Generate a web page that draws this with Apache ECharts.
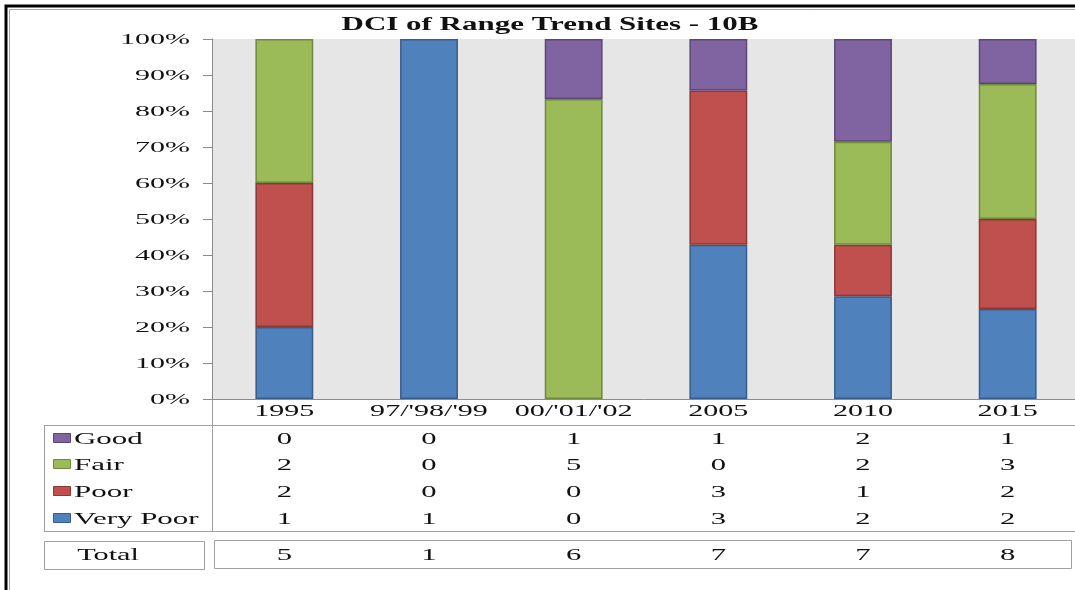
<!DOCTYPE html>
<html>
<head>
<meta charset="utf-8">
<script src="https://cdn.jsdelivr.net/npm/echarts@6/dist/echarts.min.js"></script>
<style>
html, body { margin: 0; padding: 0; background: #fff; }
#chart { width: 1075px; height: 590px; }
</style>
</head>
<body>
<div id="chart"></div>
<script>
// data (site counts per condition class)
const titleText = 'DCI of Range Trend Sites - 10B';
const categories = ['1995', "97/'98/'99", "00/'01/'02", '2005', '2010', '2015'];
const veryPoor = [1, 1, 0, 3, 2, 2];
const poor = [2, 0, 0, 3, 1, 2];
const fair = [2, 0, 5, 0, 2, 3];
const good = [0, 0, 1, 1, 2, 1];
const totals = [5, 1, 6, 7, 7, 8];
const yTicks = [0, 10, 20, 30, 40, 50, 60, 70, 80, 90, 100];

const colors = { 'Very Poor': '#4F81BD', 'Poor': '#C0504D', 'Fair': '#9BBB59', 'Good': '#8064A2' };
const edges = { 'Very Poor': '#385D8A', 'Poor': '#8C3836', 'Fair': '#71893F', 'Good': '#5C4776' };

const serif = '"Liberation Serif", "Times New Roman", serif';
const lineGray = '#a0a0a0';

// share of sites per year; empty classes get no bar at all
function pct(arr) {
    return arr.map((v, i) => (v === 0 ? null : v / totals[i] * 100));
}

function barSeries(name, arr) {
    return {
        name: name,
        type: 'bar',
        stack: 'all',
        barWidth: '40%',
        data: pct(arr),
        itemStyle: {
            color: colors[name],
            borderColor: edges[name],
            borderWidth: 1.5,
        },
    };
}

const chart = echarts.init(document.getElementById('chart'));
chart.setOption({
    animation: false,
    backgroundColor: '#fff',
    grid: {
        left: 212,
        top: 39,
        width: 868,
        height: 360,
        show: true,
        backgroundColor: '#E6E6E6',
        borderWidth: 0,
        outerBoundsMode: 'none',
    },
    xAxis: {
        type: 'category',
        data: categories,
        axisLine: { lineStyle: { color: '#8c8c8c' } },
        axisTick: { show: false },
        axisLabel: { show: false },
    },
    yAxis: {
        type: 'value',
        min: 0,
        max: 100,
        interval: 10,
        axisLine: { show: true, lineStyle: { color: '#8c8c8c' } },
        axisTick: { show: true, length: 9, lineStyle: { color: '#8c8c8c' } },
        axisLabel: { show: false },
        splitLine: { show: false },
    },
    series: [
        barSeries('Very Poor', veryPoor),
        barSeries('Poor', poor),
        barSeries('Fair', fair),
        barSeries('Good', good),
    ],
});

// text helper: the original text is drawn wide, so stretch it horizontally
function txt(text, x, y, size, align, sx, bold) {
    return {
        type: 'text',
        x: x,
        y: y,
        scaleX: sx,
        silent: true,
        style: {
            text: text,
            font: (bold ? 'bold ' : '') + size + 'px ' + serif,
            fill: '#111',
            align: align,
            verticalAlign: 'middle',
            textAlign: align,
            textVerticalAlign: 'middle',
        },
    };
}

function hline(x1, x2, y, color) {
    return { type: 'line', silent: true, shape: { x1: x1, y1: y, x2: x2, y2: y }, style: { stroke: color, lineWidth: 1 } };
}
function vline(x, y1, y2, color) {
    return { type: 'line', silent: true, shape: { x1: x, y1: y1, x2: x, y2: y2 }, style: { stroke: color, lineWidth: 1 } };
}

function buildGraphic() {
    const g = [];
    // outer frame
    g.push({ type: 'rect', silent: true, shape: { x: 6, y: 6, width: 1200, height: 1200 }, style: { fill: null, stroke: '#000', lineWidth: 3 } });
    g.push({ type: 'rect', silent: true, shape: { x: 9.5, y: 9.5, width: 1200, height: 1200 }, style: { fill: null, stroke: '#a6a6a6', lineWidth: 1 } });

    g.push(txt(titleText, 550, 25.5, 18, 'center', 1.72, true));

    yTicks.forEach(v => {
        const y = chart.convertToPixel({ yAxisIndex: 0 }, v);
        g.push(txt(v + '%', 190, y + 1.5, 15, 'right', 2.0));
    });

    const cx = categories.map(c => chart.convertToPixel({ xAxisIndex: 0 }, c));
    categories.forEach((c, i) => g.push(txt(c, cx[i], 412, 16, 'center', 1.88)));

    // data table
    g.push(hline(44, 1080, 425.5, lineGray));
    g.push(hline(44, 1080, 531.5, lineGray));
    g.push(vline(44.5, 425, 532, lineGray));
    g.push(vline(212.5, 399, 532, lineGray));

    const rows = [
        ['Good', good],
        ['Fair', fair],
        ['Poor', poor],
        ['Very Poor', veryPoor],
    ];
    const rowY = [438, 464, 491, 518];
    rows.forEach((r, k) => {
        const y = rowY[k];
        g.push({ type: 'rect', silent: true, shape: { x: 53.5, y: y - 4.5, width: 17, height: 9 }, style: { fill: colors[r[0]], stroke: edges[r[0]], lineWidth: 1 } });
        g.push(txt(r[0], 74, y + 1.5, 17, 'left', 1.82));
        r[1].forEach((v, i) => g.push(txt(String(v), cx[i], y + 1.5, 17, 'center', 1.8)));
    });

    // total row
    g.push({ type: 'rect', silent: true, shape: { x: 44.5, y: 541.5, width: 160, height: 28 }, style: { fill: null, stroke: lineGray, lineWidth: 1 } });
    g.push({ type: 'rect', silent: true, shape: { x: 214.5, y: 540.5, width: 857, height: 28 }, style: { fill: null, stroke: lineGray, lineWidth: 1 } });
    g.push(txt('Total', 108, 556, 17, 'center', 1.78));
    totals.forEach((v, i) => g.push(txt(String(v), cx[i], 556, 17, 'center', 1.8)));

    return g;
}

chart.setOption({ graphic: buildGraphic() });
</script>
</body>
</html>
